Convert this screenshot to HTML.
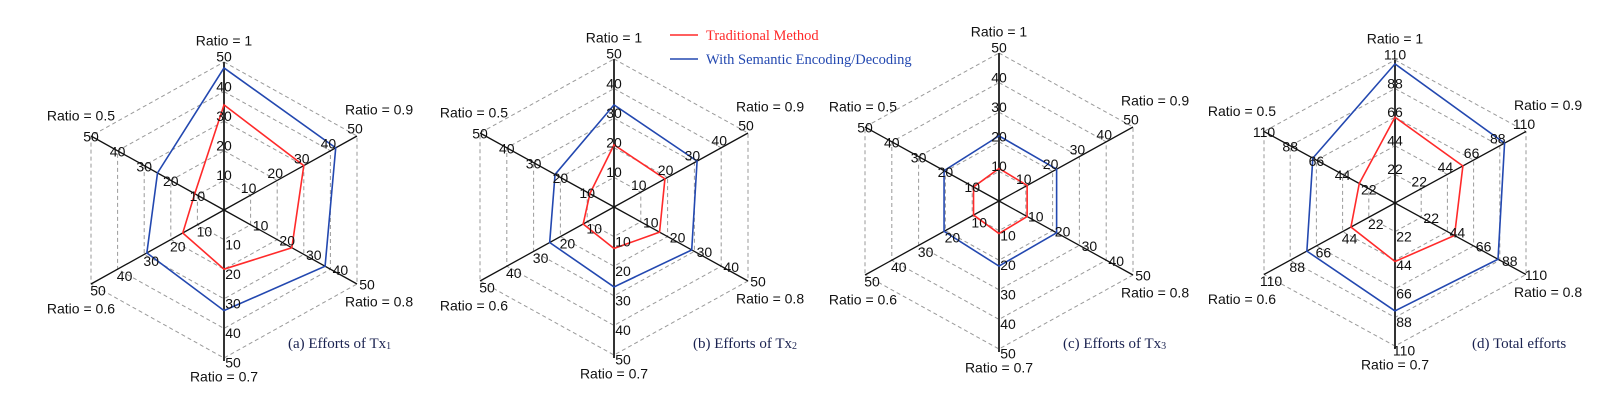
<!DOCTYPE html>
<html><head><meta charset="utf-8">
<style>
html,body{margin:0;padding:0;background:#fff;}
svg{display:block;}
</style></head>
<body>
<svg id="chart" width="1609" height="412" viewBox="0 0 1609 412" xmlns="http://www.w3.org/2000/svg">
  <g>
    <line x1="670" y1="35" x2="698" y2="35" stroke="#ff2a2a" stroke-width="1.5"/>
    <text x="706" y="40" font-family="Liberation Serif, serif" font-size="14.5" fill="#ff2a2a">Traditional Method</text>
    <line x1="670" y1="59" x2="698" y2="59" stroke="#2348b0" stroke-width="1.5"/>
    <text x="706" y="64" font-family="Liberation Serif, serif" font-size="14.5" fill="#2348b0">With Semantic Encoding/Decoding</text>
  </g>
</svg>
<script>
const axisLabels = ["Ratio = 1","Ratio = 0.9","Ratio = 0.8","Ratio = 0.7","Ratio = 0.6","Ratio = 0.5"];
const ticksA = [10,20,30,40,50];
const ticksD = [22,44,66,88,110];
const tradA = [35.5,30,25.5,20,15.5,11];
const semA  = [48,42,38,34,29,25];
const tradB = [21,19,17,14,11.5,9];
const semB  = [34.5,31,29,27,24,22];
const tradC = [11,10.5,10.5,11,9.5,9.5];
const semC  = [22,21.5,21.5,22,20.5,20.5];
const tradD = [66,57,50,45,37,30];
const semD  = [107,92,86.5,83,74,69];
const captions = ["(a) Efforts of Tx","(b) Efforts of Tx","(c) Efforts of Tx","(d) Total efforts"];
const captionSubs = ["1","2","3",""];

const NS="http://www.w3.org/2000/svg";
const svg=document.getElementById('chart');
function mk(tag,attrs,parent){const e=document.createElementNS(NS,tag);for(const k in attrs)e.setAttribute(k,attrs[k]);(parent||svg).appendChild(e);return e;}

const panels=[
 {id:'a',cx:224,cy:210,ry:148,hx:133,max:50,ticks:ticksA,trad:tradA,sem:semA,lo:24,cap:[288,348]},
 {id:'b',cx:614,cy:207,ry:148,hx:134,max:50,ticks:ticksA,trad:tradB,sem:semB,lo:28,cap:[693,348]},
 {id:'c',cx:999,cy:201,ry:148,hx:134,max:50,ticks:ticksA,trad:tradC,sem:semC,lo:32,cap:[1063,348]},
 {id:'d',cx:1395,cy:203,ry:143,hx:131,max:110,ticks:ticksD,trad:tradD,sem:semD,lo:12,cap:[1472,348]}
];
const dirs=[[0,-1],[1,-0.5],[1,0.5],[0,1],[-1,0.5],[-1,-0.5]];
const tickOff=[[0,-4],[-2,-6],[10,2],[9,6],[7,8],[0,2]];

panels.forEach((p,pi)=>{
  const g=mk('g',{});
  
  
  const pt=(i,v)=>{const f=v/p.max;return [p.cx+dirs[i][0]*p.hx*f,p.cy+dirs[i][1]*p.ry*f];};
  p.ticks.forEach(t=>{
    const pts=dirs.map((d,i)=>pt(i,t).join(',')).join(' ');
    const r=mk('polygon',{points:pts,fill:'none',stroke:'#9a9a9a','stroke-width':1,'stroke-dasharray':'4,3'},g);
    
    
  });
  for(let i=0;i<6;i++){
    if(i===3) continue;
    const e=pt(i,p.max);
    if(i===0){
      const b=pt(3,p.max);
      const l=mk('line',{x1:e[0],y1:e[1],x2:b[0],y2:b[1]+3,stroke:'#333','stroke-width':2},g);
      
      
    } else {
      const l=mk('line',{x1:p.cx,y1:p.cy,x2:e[0],y2:e[1],stroke:'#111','stroke-width':1.3},g);
      
      
    }
  }
  [[p.trad,'#ff2a2a','series-traditional'],[p.sem,'#2348b0','series-semantic']].forEach(s=>{
    const pts=s[0].map((v,i)=>pt(i,v).join(',')).join(' ');
    const poly=mk('polygon',{points:pts,fill:'none',stroke:s[1],'stroke-width':1.6},g);
    
    
  });
  for(let i=0;i<6;i++){
    p.ticks.forEach(t=>{
      const q=pt(i,t);
      const tx=mk('text',{x:q[0]+tickOff[i][0],y:q[1]+tickOff[i][1],'text-anchor':'middle','dominant-baseline':'middle','font-family':'Liberation Sans, sans-serif','font-size':14,fill:'#111'},g);
      tx.textContent=t;
      
      
    });
  }
  const lab=[];
  let e=pt(0,p.max); lab.push([e[0],e[1]-20,'middle']);
  e=pt(1,p.max); lab.push([e[0]-12,e[1]-25,'start']);
  e=pt(2,p.max); lab.push([e[0]-12,e[1]+19,'start']);
  e=pt(3,p.max); lab.push([e[0],e[1]+20,'middle']);
  e=pt(4,p.max); lab.push([e[0]+p.lo,e[1]+26,'end']);
  e=pt(5,p.max); lab.push([e[0]+p.lo,e[1]-19,'end']);
  lab.forEach((L,i)=>{
    const tx=mk('text',{x:L[0],y:L[1],'text-anchor':L[2],'dominant-baseline':'middle','font-family':'Liberation Sans, sans-serif','font-size':14,fill:'#111'},g);
    tx.textContent=axisLabels[i];
    
    
  });
  const c=mk('text',{x:p.cap[0],y:p.cap[1],'font-family':'Liberation Serif, serif','font-size':15,fill:'#1a2250'},g);
  c.textContent=captions[pi];
  if(captionSubs[pi]){
    const ts=mk('tspan',{'font-size':10,dy:1},c);
    ts.textContent=captionSubs[pi];
  }
  
  
});
</script>
</body></html>
